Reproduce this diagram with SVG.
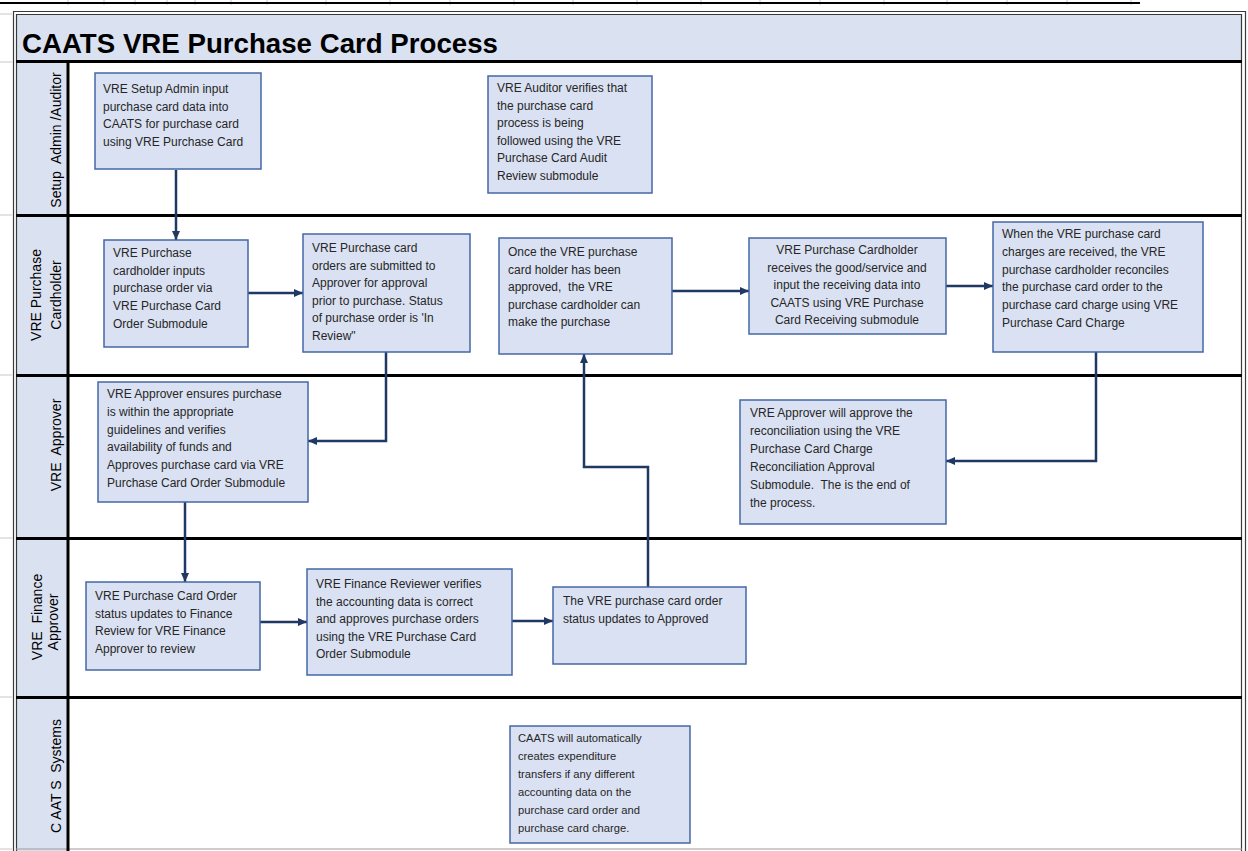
<svg xmlns="http://www.w3.org/2000/svg" width="1248" height="851" viewBox="0 0 1248 851">
<defs>
<style>
.grid{stroke:#c8c8c8;stroke-width:1}
.frame{fill:none;stroke:#3a3a3a;stroke-width:1.2}
.lane{stroke:#000;stroke-width:3}
.box{fill:#dae1f2;stroke:#4467a6;stroke-width:1.5}
.t{font-family:"Liberation Sans",Arial,sans-serif;font-size:12px;fill:#262626}
.ts{font-family:"Liberation Sans",Arial,sans-serif;font-size:11.2px;fill:#262626}
.lbl{font-family:"Liberation Sans",Arial,sans-serif;font-size:14px;fill:#000;white-space:pre}
.title{font-family:"Liberation Sans",Arial,sans-serif;font-size:28px;font-weight:bold;fill:#000}
.conn{fill:none;stroke:#1f3864;stroke-width:2.5}
</style>
<marker id="ah" markerUnits="userSpaceOnUse" markerWidth="9" markerHeight="8" refX="9" refY="4" orient="auto">
<path d="M0,0 L9,4 L0,8 z" fill="#1f3864"/>
</marker>
</defs>
<rect x="0" y="0" width="1248" height="851" fill="#fff"/>
<g id="gridticks">
<path class="grid" d="M68,0V5M104,0V5M135,0V5M167,0V5M195,0V5M231,0V5M267,0V5M326,0V5M390,0V5M450,0V5M514,0V5M573,0V5M637,0V5M701,0V5M760,0V5M820,0V5M884,0V5M947,0V5M1007,0V5M1067,0V5M1131,0V5"/>
<path class="grid" d="M0,14H12M0,62H12M0,215H12M0,375H12M0,538H12M0,697H12M0,849H12"/>
<line x1="0" y1="3" x2="1140" y2="3" stroke="#000" stroke-width="2"/>
</g>
<g id="frame">
<rect x="16" y="15" width="1225" height="46" fill="#dae1f0"/>
<rect x="17" y="61" width="50" height="790" fill="#dae1f0"/>
<path class="frame" d="M13.5,851V11.5H1245.5V851"/>
<path class="frame" d="M16.5,851V14.5H1241.5V851"/>
<line x1="16" y1="849" x2="1242" y2="849" stroke="#9a9a9a" stroke-width="1"/>
<line class="lane" x1="16" y1="61.5" x2="1242" y2="61.5"/>
<line class="lane" x1="16" y1="215.5" x2="1242" y2="215.5"/>
<line class="lane" x1="16" y1="375.5" x2="1242" y2="375.5"/>
<line class="lane" x1="16" y1="538.5" x2="1242" y2="538.5"/>
<line class="lane" x1="16" y1="697.5" x2="1242" y2="697.5"/>
<line class="lane" x1="68" y1="61" x2="68" y2="851"/>
<text class="title" x="22" y="53" textLength="476" lengthAdjust="spacingAndGlyphs">CAATS VRE Purchase Card Process</text>
</g>
<g id="lanes">
<text class="lbl" transform="translate(61,140) rotate(-90)" text-anchor="middle">Setup  Admin /Auditor</text>
<text class="lbl" transform="translate(41,295) rotate(-90)" text-anchor="middle">VRE Purchase</text>
<text class="lbl" transform="translate(61,295) rotate(-90)" text-anchor="middle">Cardholder</text>
<text class="lbl" transform="translate(61,445) rotate(-90)" text-anchor="middle">VRE  Approver</text>
<text class="lbl" transform="translate(42,617) rotate(-90)" text-anchor="middle">VRE  Finance</text>
<text class="lbl" transform="translate(58,622) rotate(-90)" text-anchor="middle">Approver</text>
<text class="lbl" transform="translate(61,776) rotate(-90)" text-anchor="middle">C AAT S  Systems</text>
</g>
<g id="connectors">
<path class="conn" marker-end="url(#ah)" d="M176,170V240"/>
<path class="conn" marker-end="url(#ah)" d="M248,293H303"/>
<path class="conn" marker-end="url(#ah)" d="M386,352V441H308"/>
<path class="conn" marker-end="url(#ah)" d="M672,291H749"/>
<path class="conn" marker-end="url(#ah)" d="M946,286H993"/>
<path class="conn" marker-end="url(#ah)" d="M1096,352V461H946"/>
<path class="conn" marker-end="url(#ah)" d="M185,502V582"/>
<path class="conn" marker-end="url(#ah)" d="M260,622H307"/>
<path class="conn" marker-end="url(#ah)" d="M512,621H553"/>
<path class="conn" marker-end="url(#ah)" d="M648,587V467H584V354"/>
</g>
<g id="n1">
<rect class="box" x="95" y="73" width="166" height="96"/>
<text class="t" x="103" y="93"><tspan x="103">VRE Setup Admin input</tspan><tspan x="103" dy="17.7">purchase card data into</tspan><tspan x="103" dy="17.7">CAATS for purchase card</tspan><tspan x="103" dy="17.7">using VRE Purchase Card</tspan></text>
</g>
<g id="n2">
<rect class="box" x="488" y="76" width="164" height="117"/>
<text class="t" x="497" y="92"><tspan x="497">VRE Auditor verifies that</tspan><tspan x="497" dy="17.6">the purchase card</tspan><tspan x="497" dy="17.6">process is being</tspan><tspan x="497" dy="17.6">followed using the VRE</tspan><tspan x="497" dy="17.6">Purchase Card Audit</tspan><tspan x="497" dy="17.6">Review submodule</tspan></text>
</g>
<g id="n3">
<rect class="box" x="104" y="240" width="144" height="107"/>
<text class="t" x="113" y="257"><tspan x="113">VRE Purchase</tspan><tspan x="113" dy="17.7">cardholder inputs</tspan><tspan x="113" dy="17.7">purchase order via</tspan><tspan x="113" dy="17.7">VRE Purchase Card</tspan><tspan x="113" dy="17.7">Order Submodule</tspan></text>
</g>
<g id="n4">
<rect class="box" x="303" y="234" width="167" height="118"/>
<text class="t" x="312" y="252"><tspan x="312">VRE Purchase card</tspan><tspan x="312" dy="17.6">orders are submitted to</tspan><tspan x="312" dy="17.6">Approver for approval</tspan><tspan x="312" dy="17.6">prior to purchase. Status</tspan><tspan x="312" dy="17.6">of purchase order is 'In</tspan><tspan x="312" dy="17.6">Review"</tspan></text>
</g>
<g id="n5">
<rect class="box" x="499" y="238" width="173" height="116"/>
<text class="t" x="508" y="256" style="white-space:pre"><tspan x="508">Once the VRE purchase</tspan><tspan x="508" dy="17.5">card holder has been</tspan><tspan x="508" dy="17.5">approved,  the VRE</tspan><tspan x="508" dy="17.5">purchase cardholder can</tspan><tspan x="508" dy="17.5">make the purchase</tspan></text>
</g>
<g id="n6">
<rect class="box" x="749" y="238" width="197" height="96"/>
<text class="t" x="847" y="254" text-anchor="middle"><tspan x="847">VRE Purchase Cardholder</tspan><tspan x="847" dy="17.6">receives the good/service and</tspan><tspan x="847" dy="17.6">input the receiving data into</tspan><tspan x="847" dy="17.6">CAATS using VRE Purchase</tspan><tspan x="847" dy="17.6">Card Receiving submodule</tspan></text>
</g>
<g id="n7">
<rect class="box" x="993" y="222" width="210" height="130"/>
<text class="t" x="1002" y="238"><tspan x="1002">When the VRE purchase card</tspan><tspan x="1002" dy="17.8">charges are received, the VRE</tspan><tspan x="1002" dy="17.8">purchase cardholder reconciles</tspan><tspan x="1002" dy="17.8">the purchase card order to the</tspan><tspan x="1002" dy="17.8">purchase card charge using VRE</tspan><tspan x="1002" dy="17.8">Purchase Card Charge</tspan></text>
</g>
<g id="n8">
<rect class="box" x="98" y="382" width="210" height="120"/>
<text class="t" x="107" y="398"><tspan x="107">VRE Approver ensures purchase</tspan><tspan x="107" dy="17.8">is within the appropriate</tspan><tspan x="107" dy="17.8">guidelines and verifies</tspan><tspan x="107" dy="17.8">availability of funds and</tspan><tspan x="107" dy="17.8">Approves purchase card via VRE</tspan><tspan x="107" dy="17.8">Purchase Card Order Submodule</tspan></text>
</g>
<g id="n9">
<rect class="box" x="740" y="400" width="206" height="124"/>
<text class="t" x="750" y="417" style="white-space:pre"><tspan x="750">VRE Approver will approve the</tspan><tspan x="750" dy="18">reconciliation using the VRE</tspan><tspan x="750" dy="18">Purchase Card Charge</tspan><tspan x="750" dy="18">Reconciliation Approval</tspan><tspan x="750" dy="18">Submodule.  The is the end of</tspan><tspan x="750" dy="18">the process.</tspan></text>
</g>
<g id="n10">
<rect class="box" x="86" y="582" width="174" height="88"/>
<text class="t" x="95" y="600"><tspan x="95">VRE Purchase Card Order</tspan><tspan x="95" dy="17.7">status updates to Finance</tspan><tspan x="95" dy="17.7">Review for VRE Finance</tspan><tspan x="95" dy="17.7">Approver to review</tspan></text>
</g>
<g id="n11">
<rect class="box" x="307" y="569" width="205" height="106"/>
<text class="t" x="316" y="588"><tspan x="316">VRE Finance Reviewer verifies</tspan><tspan x="316" dy="17.6">the accounting data is correct</tspan><tspan x="316" dy="17.6">and approves purchase orders</tspan><tspan x="316" dy="17.6">using the VRE Purchase Card</tspan><tspan x="316" dy="17.6">Order Submodule</tspan></text>
</g>
<g id="n12">
<rect class="box" x="553" y="587" width="193" height="77"/>
<text class="t" x="563" y="605"><tspan x="563">The VRE purchase card order</tspan><tspan x="563" dy="17.5">status updates to Approved</tspan></text>
</g>
<g id="n13">
<rect class="box" x="510" y="726" width="180" height="117"/>
<text class="ts" x="518" y="742"><tspan x="518">CAATS will automatically</tspan><tspan x="518" dy="18">creates expenditure</tspan><tspan x="518" dy="18">transfers if any different</tspan><tspan x="518" dy="18">accounting data on the</tspan><tspan x="518" dy="18">purchase card order and</tspan><tspan x="518" dy="18">purchase card charge.</tspan></text>
</g>
</svg>
